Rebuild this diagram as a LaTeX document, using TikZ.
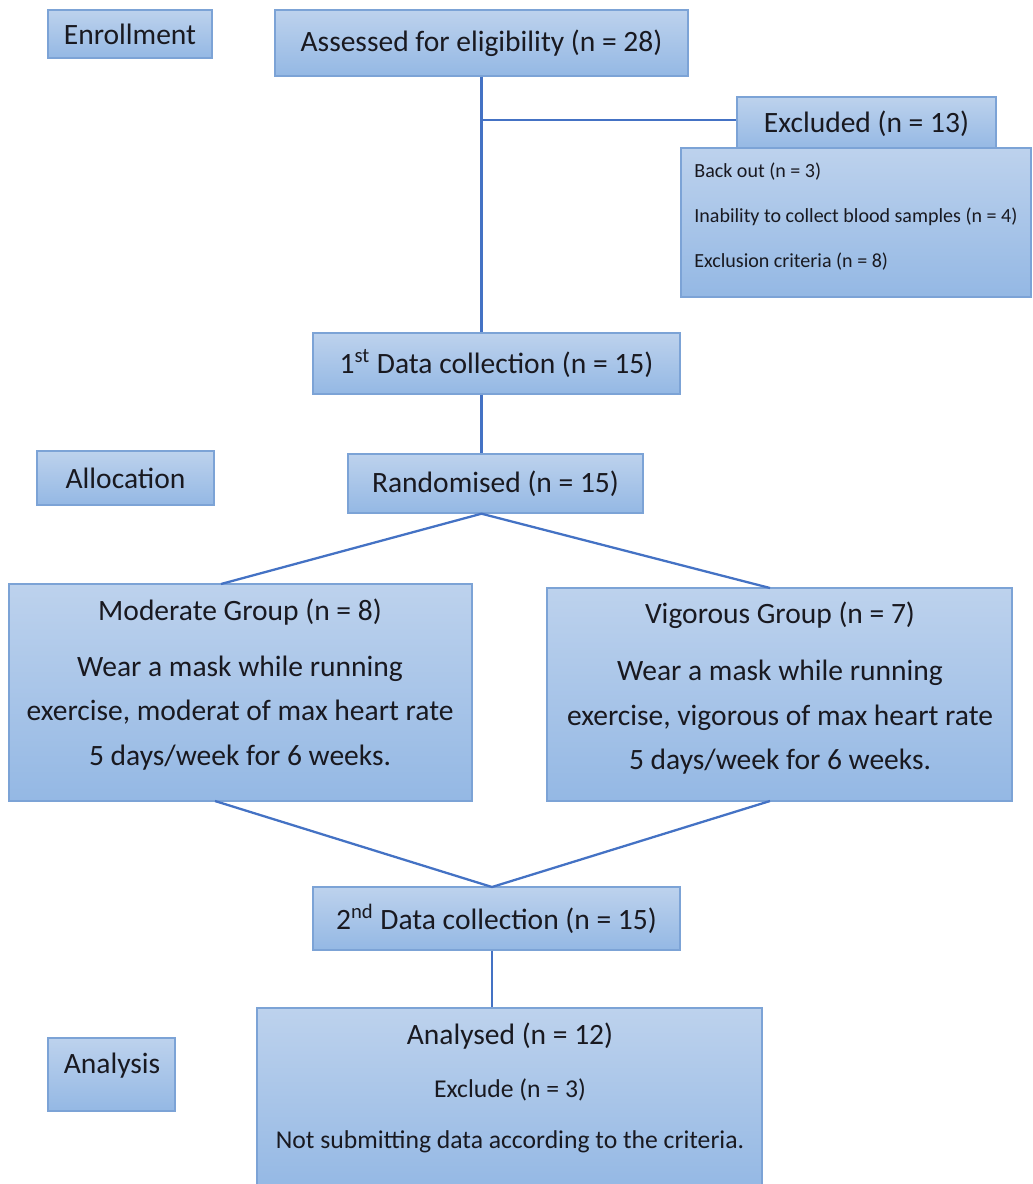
\documentclass[tikz,border=0pt]{standalone}
\usepackage{fontspec}
\setmainfont{Carlito}
\definecolor{boxtop}{RGB}{189,210,237}
\definecolor{boxbot}{RGB}{148,184,228}
\definecolor{boxline}{RGB}{124,163,214}
\definecolor{linkblue}{RGB}{68,114,196}
\definecolor{inktext}{RGB}{25,25,32}
\tikzset{
  stage/.style={draw=boxline, line width=0.8pt, top color=boxtop, bottom color=boxbot,
    inner sep=0pt, text=inktext, font=\fontsize{16.8}{20}\selectfont},
  words/.style={text=inktext, inner sep=0pt, align=center, font=\fontsize{16.8}{25.2}\selectfont},
  smallwords/.style={text=inktext, inner sep=0pt, font=\fontsize{14.6}{18}\selectfont},
  link/.style={draw=linkblue, line width=1.3pt},
}

\begin{document}
\begin{tikzpicture}[x=0.02cm, y=-0.02cm]
\useasboundingbox (0,0) rectangle (1032,1184);

% side labels
\node[stage, minimum width=3.28cm, minimum height=0.96cm] (enroll) at (130,34) {Enrollment};
\node[stage, minimum width=3.54cm, minimum height=1.08cm] (alloc) at (125.5,478) {Allocation};
\node[stage, minimum width=2.54cm, minimum height=1.46cm] (analysis) at (111.5,1074.5) {};
\node[text=inktext, inner sep=0pt, font=\fontsize{16.8}{20}\selectfont] (analysis-t) at (112,1066) {Analysis};

% main column
\node[stage, minimum width=8.26cm, minimum height=1.32cm] (assess) at (481.5,43) {Assessed for eligibility (n = 28)};
\node[stage, minimum width=5.18cm, minimum height=1.06cm] (exclhead) at (866.5,123.5) {Excluded (n = 13)};
\node[stage, minimum width=7.0cm, minimum height=2.98cm] (excldet) at (856,222.5) {};
\node[text=inktext, inner sep=0pt, anchor=west, align=left, font=\fontsize{11.4}{25.6}\selectfont]
  (excldet-t) at (694,217) {Back out (n = 3)\\Inability to collect blood samples (n = 4)\\Exclusion criteria (n = 8)};
\node[stage, minimum width=7.34cm, minimum height=1.22cm] (data1) at (496.5,363.5) {1\textsuperscript{st} Data collection (n = 15)};
\node[stage, minimum width=5.9cm, minimum height=1.18cm] (rand) at (495.5,483.5) {Randomised (n = 15)};

% groups
\node[stage, minimum width=9.26cm, minimum height=4.34cm] (mod) at (240.5,692.5) {};
\node[words] (mod-t) at (240,684.5) {Moderate Group (n = 8)\\[6.5pt]Wear a mask while running\\exercise, moderat of max heart rate\\5 days/week for 6 weeks.};
\node[stage, minimum width=9.3cm, minimum height=4.26cm] (vig) at (779.5,694.5) {};
\node[words] (vig-t) at (780,688) {Vigorous Group (n = 7)\\[7.5pt]Wear a mask while running\\exercise, vigorous of max heart rate\\5 days/week for 6 weeks.};

\node[stage, minimum width=7.34cm, minimum height=1.26cm] (data2) at (496.5,918.5) {2\textsuperscript{nd} Data collection (n = 15)};
\node[stage, minimum width=10.1cm, minimum height=3.64cm] (anal) at (509.5,1099) {};
\node[text=inktext, inner sep=0pt, font=\fontsize{16.8}{20}\selectfont] (anal-t) at (510,1036) {Analysed (n = 12)};
\node[smallwords] (anal-ex) at (510,1090) {Exclude (n = 3)};
\node[smallwords] (anal-why) at (510,1142) {Not submitting data according to the criteria.};

% connectors
\coordinate (split) at (assess.south |- 0,120);
\coordinate (fork) at (assess.south |- rand.south);
\coordinate (modin) at (221,584);
\coordinate (vigin) at (770,588);
\coordinate (modout) at (215,801);
\coordinate (vigout) at (770,801);
\coordinate (join) at (492,887);
\draw[link] (assess.south) -- (assess.south |- data1.north);
\draw[link] (split) -- (split -| exclhead.west);
\draw[link] (assess.south |- data1.south) -- (assess.south |- rand.north);
\draw[link] (modin) -- (fork) -- (vigin);
\draw[link] (modout) -- (join) -- (vigout);
\draw[link] (join |- data2.south) -- (join |- anal.north);
\end{tikzpicture}
\end{document}
